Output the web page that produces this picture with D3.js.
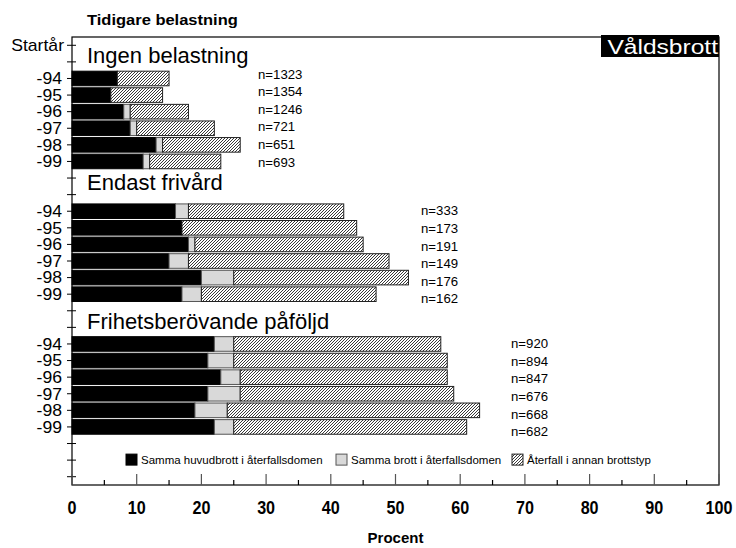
<!DOCTYPE html>
<html><head><meta charset="utf-8">
<script src="https://cdn.jsdelivr.net/npm/d3@7"></script>
<style>
body{margin:0;background:#fff;}
svg{display:block;font-family:"Liberation Sans",Arial,sans-serif;}
</style></head>
<body>
<script>
// ---- data ----
const years = ["-94","-95","-96","-97","-98","-99"];
const groups = ["Ingen belastning","Endast frivård","Frihetsberövande påföljd"];
const sameMain = [[7,6,8,9,13,11],[16,17,18,15,20,17],[22,21,23,21,19,22]];
const sameOffense = [[0,0,1,1,1,1],[2,0,1,3,5,3],[3,4,3,5,5,3]];
const otherType = [[8,8,9,12,12,11],[24,27,26,31,27,27],[32,33,32,33,39,36]];
const nValues = [[1323,1354,1246,721,651,693],[333,173,191,149,176,162],[920,894,847,676,668,682]];
const seriesNames = ["Samma huvudbrott i återfallsdomen","Samma brott i återfallsdomen","Återfall i annan brottstyp"];
const xTicks = [0,10,20,30,40,50,60,70,80,90,100];
const title = "Tidigare belastning", yTitle = "Startår", xTitle = "Procent", badge = "Våldsbrott";

// ---- layout ----
const W = 736, H = 548;
const L = 72, R = 719, T = 37, B = 485;
const svg = d3.select("body").append("svg").attr("width", W).attr("height", H);
const defs = svg.append("defs");
const pat = defs.append("pattern").attr("id","hatch").attr("patternUnits","userSpaceOnUse")
  .attr("width",3).attr("height",3);
pat.append("rect").attr("width",3).attr("height",3).attr("fill","#fff");
pat.append("path").attr("d","M-1,1 L1,-1 M0,3 L3,0 M2,4 L4,2").attr("stroke","#222").attr("stroke-width",0.9);

function txt(str, xx, yy, size, o={}){
  const t = svg.append("text")
    .attr("transform",`translate(${xx},${yy}) scale(${o.sx||1},1)`)
    .attr("font-size",size).attr("text-anchor",o.anchor||"start")
    .attr("dy",o.dy||null).attr("fill",o.fill||"#000").text(str);
  if(o.bold) t.attr("font-weight","bold");
  return t;
}

const rowsPerGroupStart = [2,10,18];
const nRows = 27;
const y = d3.scaleBand().domain(d3.range(nRows)).range([T,B]).paddingInner(0.12).paddingOuter(0.06);
const yc = r => y(r)+y.bandwidth()/2;
const x = d3.scaleLinear().domain([0,100]).range([L,R]);

const fills = ["#000","#d9d9d9","url(#hatch)"];
const strokes = ["#000","#555","#222"];

// bars
groups.forEach((g,gi)=>{
  years.forEach((yr,i)=>{
    const row = rowsPerGroupStart[gi]+i;
    const vals = [sameMain[gi][i],sameOffense[gi][i],otherType[gi][i]];
    let acc = 0;
    vals.forEach((v,si)=>{
      if (v>0){
        svg.append("rect").attr("x",x(acc)).attr("y",y(row)).attr("width",x(acc+v)-x(acc))
          .attr("height",y.bandwidth()).attr("fill",fills[si]).attr("stroke",strokes[si]).attr("stroke-width",1);
      }
      acc += v;
    });
  });
});

// frame
svg.append("rect").attr("x",L).attr("y",T).attr("width",R-L).attr("height",B-T)
  .attr("fill","none").attr("stroke","#000").attr("stroke-width",1.2);

// y ticks (crossing)
d3.range(nRows).forEach(r=>{
  svg.append("line").attr("x1",L-5).attr("x2",L+4).attr("y1",yc(r)).attr("y2",yc(r)).attr("stroke","#000").attr("stroke-width",1);
});

// x axis ticks (inward)
d3.range(0,101,5).forEach(v=>{
  const major = v%10===0;
  svg.append("line").attr("x1",x(v)).attr("x2",x(v)).attr("y1",B).attr("y2",B-(major?11:5))
    .attr("stroke",major?"#555":"#000").attr("stroke-width",1.2);
});
xTicks.forEach(d=> txt(String(d), x(d), 514, 19, {anchor:"middle", bold:true, sx:0.85}));
txt(xTitle, x(50), 543, 15, {anchor:"middle", bold:true});

// y labels
txt(yTitle, 64, yc(0), 16, {anchor:"end", dy:"0.35em", sx:1.1});
const titleOff = [1,-4,2];
groups.forEach((g,gi)=>{
  years.forEach((yr,i)=>{
    txt(yr, 62, yc(rowsPerGroupStart[gi]+i), 16, {anchor:"end", dy:"0.36em", sx:1.1});
  });
  const ty = (yc(rowsPerGroupStart[gi]-2)+yc(rowsPerGroupStart[gi]-1))/2 + titleOff[gi];
  txt(g, 87, ty, 22, {dy:"0.36em"});
});

// n labels
const nX = [258,421,511];
const nOff = [-4,0,0];
groups.forEach((g,gi)=>{
  nValues[gi].forEach((n,i)=>{
    const y0 = yc(rowsPerGroupStart[gi]) + nOff[gi];
    txt("n="+n, nX[gi], y0 + i*17.6, 12, {dy:"0.35em", sx:1.1});
  });
});

// title
txt(title, 87, 25, 15, {bold:true, sx:1.1});

// badge
svg.append("rect").attr("x",601).attr("y",35).attr("width",R-601).attr("height",22).attr("fill","#000");
txt(badge, R-1, 54, 21, {anchor:"end", fill:"#fff", sx:1.17});

// legend
const legY = yc(25);
const legX = [126,336,512];
seriesNames.forEach((s,si)=>{
  svg.append("rect").attr("x",legX[si]).attr("y",legY-6).attr("width",11).attr("height",11)
    .attr("fill",fills[si]).attr("stroke",strokes[si]).attr("stroke-width",1);
  txt(s, legX[si]+15, legY, 11.5, {dy:"0.35em"});
});
</script>
</body></html>
